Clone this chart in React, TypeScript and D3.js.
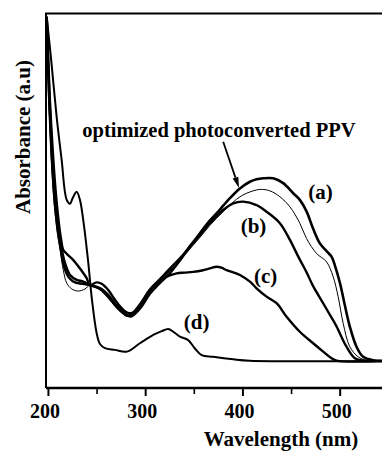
import React, { useEffect, useRef } from 'react';
import * as d3 from 'd3';

// spectra: [wavelength nm, absorbance a.u.]
const curveA: [number, number][] = [
	[198.2, 0.989], [201, 0.75], [204, 0.58], [207, 0.46], [210, 0.39], [213, 0.33], [217, 0.281], [222.2, 0.247],
	[229.1, 0.233], [235.8, 0.228], [242.7, 0.218], [249.6, 0.212], [254.7, 0.205], [261.5, 0.186], [268.4, 0.162],
	[275.3, 0.142], [281, 0.13], [287, 0.137], [294, 0.16], [304.4, 0.205], [313, 0.23], [321.5, 0.255], [330, 0.28],
	[338.6, 0.305], [347, 0.335], [355.8, 0.367], [364, 0.397], [372.9, 0.424], [380, 0.447], [386.6, 0.468],
	[396.9, 0.496], [407.2, 0.515], [414, 0.522], [420.8, 0.525], [431.1, 0.525], [441.4, 0.511], [451.7, 0.482],
	[458.5, 0.463], [465.4, 0.43], [472.2, 0.38], [479.1, 0.338], [486, 0.316], [491.1, 0.3], [494.5, 0.275],
	[499.7, 0.225], [504.8, 0.16], [509.9, 0.099], [516.8, 0.041], [523.6, 0.012], [533.9, 0.002], [543, 0],
];
const curveOptimized: [number, number][] = [
	[198.2, 0.989], [200.5, 0.75], [203, 0.58], [206, 0.45], [209, 0.37], [212, 0.319], [215.3, 0.261], [218.8, 0.224],
	[224, 0.207], [230.7, 0.201], [237.6, 0.207], [242.7, 0.218], [249.6, 0.21], [254.7, 0.2], [261.5, 0.18],
	[268.4, 0.157], [275.3, 0.138], [283.8, 0.127], [294, 0.152], [304.4, 0.197], [314, 0.227], [324.9, 0.258],
	[335, 0.288], [345.5, 0.322], [356, 0.356], [366.1, 0.39], [380, 0.43], [393.5, 0.465], [403.8, 0.482],
	[417.4, 0.493], [427.7, 0.489], [438, 0.472], [448.3, 0.443], [458.5, 0.396], [465.4, 0.352], [475.7, 0.309],
	[486, 0.285], [492.8, 0.242], [497.9, 0.185], [503.1, 0.108], [509.9, 0.041], [518.5, 0.012], [527.1, 0.002], [543, 0],
];
const curveB: [number, number][] = [
	[198.2, 0.989], [200.8, 0.75], [203.5, 0.58], [206.5, 0.455], [209.5, 0.38], [212.5, 0.325], [216, 0.272], [221, 0.24],
	[228, 0.225], [235, 0.222], [242.7, 0.218], [249.6, 0.213], [254.7, 0.207], [261.5, 0.19], [268.4, 0.165],
	[275.3, 0.145], [280.4, 0.133], [285, 0.128], [294, 0.15], [304.4, 0.193], [314, 0.222], [324.9, 0.252],
	[335, 0.288], [345.5, 0.328], [356, 0.362], [366.1, 0.396], [379.7, 0.434], [390, 0.453], [400.3, 0.458],
	[414, 0.448], [424.3, 0.429], [438, 0.396], [448.3, 0.348], [456.9, 0.3], [465.4, 0.255], [472.2, 0.215],
	[482.5, 0.166], [490, 0.13], [496.3, 0.099], [506.5, 0.041], [515.1, 0.008], [523.6, 0.001], [543, 0],
];
const curveC: [number, number][] = [
	[198.2, 0.989], [201.5, 0.75], [205, 0.58], [208, 0.47], [211, 0.39], [213, 0.35], [215.3, 0.319], [218.8, 0.308],
	[225.6, 0.29], [232.4, 0.266], [239.3, 0.238], [242.7, 0.218], [249.6, 0.226], [254.7, 0.222], [261.5, 0.204],
	[268.4, 0.176], [275.3, 0.152], [280.4, 0.14], [286, 0.138], [294, 0.162], [304.4, 0.204], [313, 0.225],
	[321.5, 0.242], [331.8, 0.252], [340, 0.254], [348.9, 0.256], [358, 0.26], [366.1, 0.266], [372.9, 0.271],
	[378, 0.268], [383.2, 0.261], [390, 0.255], [396.9, 0.247], [407.2, 0.228], [414, 0.209], [424.3, 0.185],
	[434.6, 0.166], [444.9, 0.127], [458.5, 0.084], [472.2, 0.051], [482.5, 0.027], [491.1, 0.008], [496.3, 0.001], [543, 0],
];
const curveD: [number, number][] = [
	[198.2, 0.989], [203, 0.86], [208.5, 0.7], [213.5, 0.58], [218.8, 0.463], [222.2, 0.452], [225.2, 0.47],
	[229.1, 0.486], [232.4, 0.463], [235.8, 0.405], [240.7, 0.29], [244.8, 0.175], [249.6, 0.08], [253, 0.049],
	[258.1, 0.037], [268.4, 0.032], [280.7, 0.027], [294.1, 0.051], [307.8, 0.075], [316, 0.085], [323.2, 0.092],
	[328.3, 0.084], [335.2, 0.07], [343.7, 0.06], [350.6, 0.036], [357.5, 0.017], [369.4, 0.012], [390, 0.005],
	[407, 0.001], [543, 0],
];

const majorTicks = [200, 300, 400, 500];
const minorTicks = [250, 350, 450];
const curveLabels = ['(a)', '(b)', '(c)', '(d)'];
const labelAt: [number, number][] = [[479.8, 0.465], [410.9, 0.369], [423.3, 0.225], [352.4, 0.091]];
const annotation = 'optimized photoconverted PPV';
const annotationAt: [number, number] = [375.3, 0.644];
const arrowFrom: [number, number] = [379.7, 0.63];
const arrowTo: [number, number] = [396, 0.497];

const FONT = '"Liberation Serif", "Times New Roman", serif';

function SpectraChart(): JSX.Element {
	const ref = useRef<SVGSVGElement | null>(null);
	useEffect(() => {
		if (!ref.current) return;
		const width = 382;
		const height = 452;
		const svg = d3.select(ref.current);
		svg.selectAll('*').remove();
		svg.attr('viewBox', `0 0 ${width} ${height}`);

		const x = d3.scaleLinear([197.5, 543], [46, 382]);
		const y = d3.scaleLinear([0, 1], [361, 13]);
		const g = svg.append('g');

		g.append('rect').attr('width', width).attr('height', height).attr('fill', '#fff');

		// frame: top and left, bottom axis
		g.append('path').attr('d', `M${x.range()[1]},13.5 H46 V388`).attr('fill', 'none').attr('stroke', '#000').attr('stroke-width', 2);
		g.append('line').attr('x1', 46).attr('x2', x.range()[1]).attr('y1', 388).attr('y2', 388).attr('stroke', '#000').attr('stroke-width', 2.4);

		g.selectAll('line.major').data(majorTicks).enter().append('line').attr('class', 'major')
			.attr('x1', d => x(d)).attr('x2', d => x(d)).attr('y1', 388).attr('y2', 396).attr('stroke', '#000').attr('stroke-width', 2);
		g.selectAll('line.minor').data(minorTicks).enter().append('line').attr('class', 'minor')
			.attr('x1', d => x(d)).attr('x2', d => x(d)).attr('y1', 388).attr('y2', 394).attr('stroke', '#000').attr('stroke-width', 1.6);
		g.selectAll('text.tick').data(majorTicks).enter().append('text').attr('class', 'tick')
			.attr('x', d => x(d) - 3.5).attr('y', 418).attr('text-anchor', 'middle')
			.style('font-family', FONT).style('font-weight', 'bold').style('font-size', '20px').text(d => d);

		g.append('text').attr('x', 281).attr('y', 446).attr('text-anchor', 'middle')
			.style('font-family', FONT).style('font-weight', 'bold').style('font-size', '21px').text('Wavelength (nm)');
		g.append('text').attr('transform', 'translate(30,137) rotate(-90)').attr('text-anchor', 'middle')
			.style('font-family', FONT).style('font-weight', 'bold').style('font-size', '21px').text('Absorbance (a.u)');

		const line = d3.line<[number, number]>().x(d => x(d[0])).y(d => y(d[1])).curve(d3.curveCatmullRom.alpha(0.5));
		const series = [
			{ data: curveC, w: 2.4 },
			{ data: curveB, w: 2.4 },
			{ data: curveOptimized, w: 1.0 },
			{ data: curveA, w: 2.6 },
			{ data: curveD, w: 2.0 },
		];
		series.forEach(s => {
			g.append('path').attr('d', line(s.data) as string).attr('fill', 'none').attr('stroke', '#000')
				.attr('stroke-width', s.w).attr('stroke-linejoin', 'round');
		});

		g.selectAll('text.lbl').data(curveLabels).enter().append('text').attr('class', 'lbl')
			.attr('x', (_, i) => x(labelAt[i][0])).attr('y', (_, i) => y(labelAt[i][1])).attr('text-anchor', 'middle')
			.style('font-family', FONT).style('font-weight', 'bold').style('font-size', '21px').text(d => d);

		g.append('text').attr('x', x(annotationAt[0])).attr('y', y(annotationAt[1])).attr('text-anchor', 'middle')
			.style('font-family', FONT).style('font-weight', 'bold').style('font-size', '20.5px').text(annotation);

		// arrow to the optimized curve
		const x0 = x(arrowFrom[0]), y0 = y(arrowFrom[1]);
		const x1 = x(arrowTo[0]), y1 = y(arrowTo[1]);
		const ang = Math.atan2(y1 - y0, x1 - x0);
		const hl = 11, hw = 3;
		const bx = x1 - hl * Math.cos(ang), by = y1 - hl * Math.sin(ang);
		g.append('line').attr('x1', x0).attr('y1', y0).attr('x2', bx).attr('y2', by).attr('stroke', '#000').attr('stroke-width', 1.8);
		g.append('path')
			.attr('d', `M${x1},${y1} L${bx + hw * Math.sin(ang)},${by - hw * Math.cos(ang)} L${bx - hw * Math.sin(ang)},${by + hw * Math.cos(ang)} Z`)
			.attr('fill', '#000');
	}, []);
	return <svg ref={ref} width={382} height={452} style={{ position: 'absolute', left: 0, top: 0 }} />;
}

export default function App(): JSX.Element {
	return <SpectraChart />;
}
